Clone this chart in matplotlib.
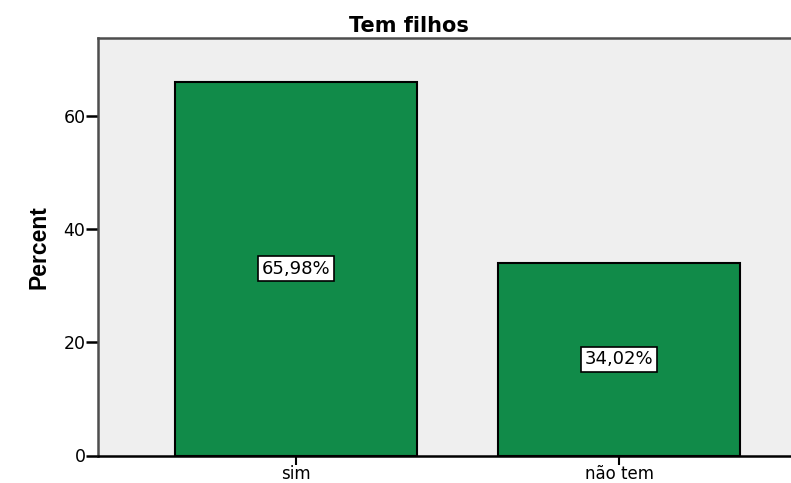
import matplotlib.pyplot as plt

categories = ['sim', 'não tem']
percents = [65.98, 34.02]
labels = ['65,98%', '34,02%']

plt.rcParams['font.family'] = ['DejaVu Sans']

fig = plt.figure(figsize=(7.91, 4.83), dpi=100)
ax = fig.add_axes([98 / 791, 27.5 / 483, 1 - 98 / 791, 417.5 / 483])
ax.set_facecolor('#efefef')

x = range(len(categories))
ax.bar(x, percents, width=0.75, color='#118b49', edgecolor='black', linewidth=1.5, zorder=2)
for xi, p, lab in zip(x, percents, labels):
    ax.text(xi, p / 2, lab, ha='center', va='center', fontsize=13, zorder=3,
            bbox=dict(boxstyle='square,pad=0.2', facecolor='white', edgecolor='black', linewidth=1.2))

ax.set_xlim(-0.613, 1.532)
ax.set_ylim(0, 73.8)
ax.set_yticks([0, 20, 40, 60])
ax.set_xticks(list(x))
ax.set_xticklabels(categories)
ax.tick_params(axis='y', labelsize=12.5, length=9, width=1.8, direction='out', pad=0)
ax.tick_params(axis='x', labelsize=12, length=6.5, width=1.5, direction='out', pad=0)

for side in ['left', 'top']:
    ax.spines[side].set_color('#4d4d4d')
    ax.spines[side].set_linewidth(1.8)
ax.spines['bottom'].set_color('black')
ax.spines['bottom'].set_linewidth(1.8)
ax.spines['right'].set_visible(False)

ax.set_ylabel('Percent', fontsize=16.5, fontweight='bold', family='Liberation Sans')
ax.yaxis.set_label_coords(-0.068, 0.5)
ax.set_title('Tem filhos', fontsize=15, fontweight='bold', pad=4.3, x=0.448)

fig.savefig('out.png', dpi=100)
